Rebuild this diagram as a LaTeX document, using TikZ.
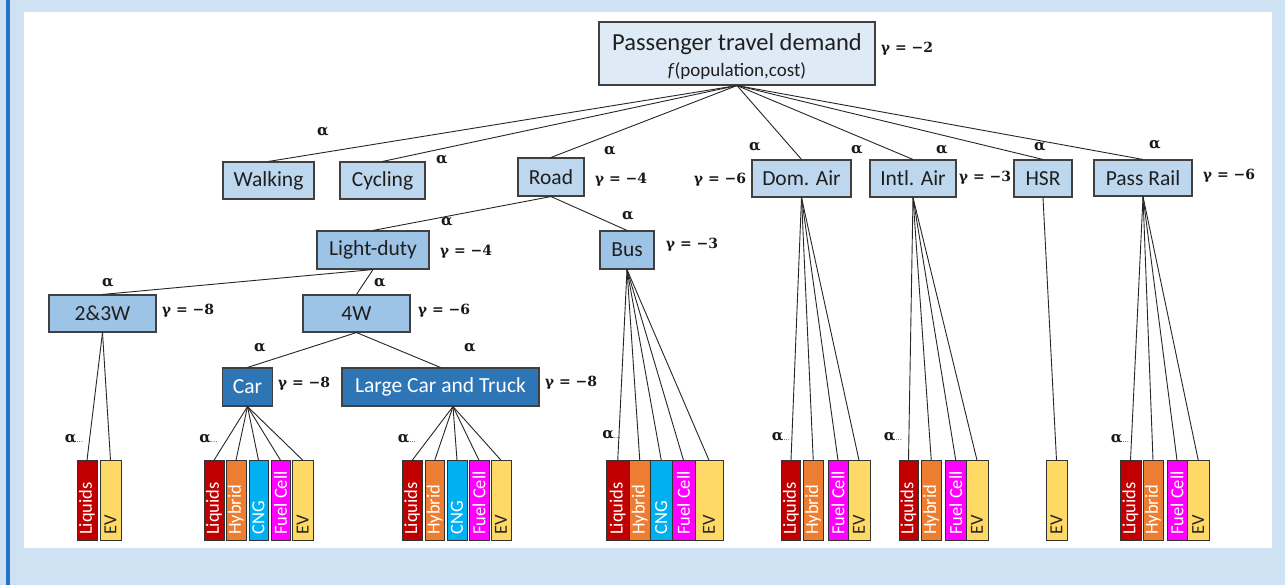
\documentclass[tikz,border=0pt]{standalone}
\usepackage{fontspec}
\setmainfont{Carlito}
\newfontfamily\symfont{DejaVu Serif}
\definecolor{bgblue}{HTML}{CFE2F3}
\definecolor{barblue}{HTML}{2373C8}
\definecolor{rootfill}{HTML}{DEEBF7}
\definecolor{lvla}{HTML}{BDD7EE}
\definecolor{lvlb}{HTML}{9DC3E6}
\definecolor{lvlc}{HTML}{2E75B6}
\definecolor{cliq}{HTML}{C00000}
\definecolor{chyb}{HTML}{ED7D31}
\definecolor{ccng}{HTML}{00B0F0}
\definecolor{cfc}{HTML}{FF00FF}
\definecolor{cev}{HTML}{FFD966}
\newcommand\leafbox[6]{%
  \pgfmathsetmacro\lfc{(#2+#3)/2}%
  \pgfmathsetmacro\lfw{#3-#2}%
  \node[leaf, fill=#4, minimum width=\lfw pt] (#1) at (\lfc,500.7) {};
  \node[leaftext, text=#5] (#1t) at (\lfc,535) {#6};
}
\newcommand\adots{{\fontsize{7}{7}\selectfont\mdseries...}}
\begin{document}
\begin{tikzpicture}[x=1pt,y=-1pt,
  box/.style={draw=black!75, line width=1.1pt, inner sep=0pt, font=\fontsize{21.5}{24}\selectfont, text=black!88},
  leaf/.style={draw=black!80, line width=0.9pt, inner sep=0pt, minimum height=80pt},
  leaftext/.style={rotate=90, anchor=west, inner sep=0pt, font=\fontsize{18.5}{20}\selectfont},
  conn/.style={draw=black!85, line width=0.9pt},
  gam/.style={inner sep=0pt, font=\symfont\bfseries\fontsize{14}{14}\selectfont, text=black!90},
  alp/.style={inner sep=0pt, font=\symfont\bfseries\fontsize{15}{15}\selectfont, text=black!90},
  alpd/.style={inner sep=0pt, font=\symfont\bfseries\fontsize{15}{15}\selectfont, text=black!90}
]
\fill[bgblue] (0,0) rectangle (1285,585);
\fill[barblue] (6,0) rectangle (10,585);
\fill[white] (24,12) rectangle (1272,548);

% root
\node[box, fill=rootfill, minimum width=276pt, minimum height=63pt] (root) at (737,53.5) {};
\node[inner sep=0pt, font=\fontsize{24.5}{26}\selectfont, text=black!88] (roott) at (737,44) {Passenger travel demand};
\node[inner sep=0pt, font=\fontsize{19}{21}\selectfont, text=black!88] (roots) at (737,71) {\textit{f}(population,cost)};

% level 1
\node[box, fill=lvla, minimum width=91pt, minimum height=37pt] (walking) at (268.5,180.5) {Walking};
\node[box, fill=lvla, minimum width=85pt, minimum height=37pt] (cycling) at (382.5,180.5) {Cycling};
\node[box, fill=lvla, minimum width=66pt, minimum height=38pt] (road) at (551,177) {Road};
\node[box, fill=lvla, minimum width=99pt, minimum height=37pt] (domair) at (801.5,178.5) {Dom. Air};
\node[box, fill=lvla, minimum width=86pt, minimum height=37pt] (intlair) at (913,178.5) {Intl. Air};
\node[box, fill=lvla, minimum width=58pt, minimum height=37pt] (hsr) at (1043,178.5) {HSR};
\node[box, fill=lvla, minimum width=98pt, minimum height=36pt] (passrail) at (1143,178) {Pass Rail};

% level 2
\node[box, fill=lvlb, minimum width=112pt, minimum height=38pt] (lightduty) at (373,250) {Light-duty};
\node[box, fill=lvlb, minimum width=54pt, minimum height=38pt] (bus) at (627,250) {Bus};
\node[box, fill=lvlb, minimum width=107pt, minimum height=37pt] (w23) at (102.5,313.5) {2\&3W};
\node[box, fill=lvlb, minimum width=107pt, minimum height=37pt] (w4) at (356.5,313.5) {4W};
\node[box, fill=lvlc, text=white, minimum width=50pt, minimum height=38pt] (car) at (247.5,387) {Car};
\node[box, fill=lvlc, text=white, minimum width=197pt, minimum height=38pt] (lct) at (440.5,387) {Large Car and Truck};

% leaves
\leafbox{l23L}{77}{97}{cliq}{white}{Liquids}
\leafbox{l23E}{100}{121}{cev}{black!85}{EV}
\leafbox{carL}{204}{224}{cliq}{white}{Liquids}
\leafbox{carH}{226}{246}{chyb}{white}{Hybrid}
\leafbox{carC}{249}{268}{ccng}{white}{CNG}
\leafbox{carF}{271}{290}{cfc}{white}{Fuel Cell}
\leafbox{carE}{292.5}{313}{cev}{black!85}{EV}
\leafbox{lctL}{402}{422.5}{cliq}{white}{Liquids}
\leafbox{lctH}{425}{444.5}{chyb}{white}{Hybrid}
\leafbox{lctC}{447}{467}{ccng}{white}{CNG}
\leafbox{lctF}{469}{489}{cfc}{white}{Fuel Cell}
\leafbox{lctE}{491}{511}{cev}{black!85}{EV}
\leafbox{busL}{606.5}{629}{cliq}{white}{Liquids}
\leafbox{busH}{629}{650.5}{chyb}{white}{Hybrid}
\leafbox{busC}{650.5}{672}{ccng}{white}{CNG}
\leafbox{busF}{672}{695}{cfc}{white}{Fuel Cell}
\leafbox{busE}{695}{723}{cev}{black!85}{EV}
\leafbox{domL}{781.5}{800.5}{cliq}{white}{Liquids}
\leafbox{domH}{803}{823.5}{chyb}{white}{Hybrid}
\leafbox{domF}{828}{848}{cfc}{white}{Fuel Cell}
\leafbox{domE}{848}{870}{cev}{black!85}{EV}
\leafbox{intL}{899}{918}{cliq}{white}{Liquids}
\leafbox{intH}{921}{941.5}{chyb}{white}{Hybrid}
\leafbox{intF}{945.5}{966}{cfc}{white}{Fuel Cell}
\leafbox{intE}{966}{988}{cev}{black!85}{EV}
\leafbox{hsrE}{1046}{1067}{cev}{black!85}{EV}
\leafbox{prL}{1120}{1141}{cliq}{white}{Liquids}
\leafbox{prH}{1143}{1163}{chyb}{white}{Hybrid}
\leafbox{prF}{1167}{1187}{cfc}{white}{Fuel Cell}
\leafbox{prE}{1187}{1209.5}{cev}{black!85}{EV}

% connectors
\foreach \c in {walking,cycling,road,domair,intlair,hsr,passrail}
  \draw[conn] (root.south) -- (\c.north);
\foreach \c in {lightduty,bus} \draw[conn] (road.south) -- (\c.north);
\foreach \c in {w23,w4} \draw[conn] (lightduty.south) -- (\c.north);
\foreach \c in {car,lct} \draw[conn] (w4.south) -- (\c.north);
\foreach \c in {l23L,l23E} \draw[conn] (w23.south) -- (\c.north);
\foreach \c in {carL,carH,carC,carF,carE} \draw[conn] (car.south) -- (\c.north);
\coordinate (lcthub) at ([xshift=12.5pt]lct.south);
\foreach \c in {lctL,lctH,lctC,lctF,lctE} \draw[conn] (lcthub) -- (\c.north);
\foreach \c in {busL,busH,busC,busF,busE} \draw[conn] (bus.south) -- (\c.north);
\foreach \c in {domL,domH,domF,domE} \draw[conn] (domair.south) -- (\c.north);
\foreach \c in {intL,intH,intF,intE} \draw[conn] (intlair.south) -- (\c.north);
\draw[conn] (hsr.south) -- (hsrE.north);
\foreach \c in {prL,prH,prF,prE} \draw[conn] (passrail.south) -- (\c.north);

% gamma labels
\node[gam] (groot) at (907,49) {γ = −2};
\node[gam] (groad) at (621,180) {γ = −4};
\node[gam] (gdom) at (720,180) {γ = −6};
\node[gam] (gintl) at (985,178) {γ = −3};
\node[gam] (gpr) at (1229,176) {γ = −6};
\node[gam] (gld) at (466,252) {γ = −4};
\node[gam] (gbus) at (692,245) {γ = −3};
\node[gam] (g23) at (188,311) {γ = −8};
\node[gam] (g4) at (444,311) {γ = −6};
\node[gam] (gcar) at (304,384) {γ = −8};
\node[gam] (glct) at (571,383) {γ = −8};

% alpha labels
\node[alp] (a1) at (323,132) {α};
\node[alp] (a2) at (442,160) {α};
\node[alp] (a3) at (610,151) {α};
\node[alp] (a4) at (755,147) {α};
\node[alp] (a5) at (857,150) {α};
\node[alp] (a6) at (942,150) {α};
\node[alp] (a7) at (1040,147) {α};
\node[alp] (a8) at (1155,145) {α};
\node[alp] (a9) at (447,222) {α};
\node[alp] (a10) at (628,216) {α};
\node[alp] (a11) at (108,283) {α};
\node[alp] (a12) at (380,283) {α};
\node[alp] (a13) at (260,348) {α};
\node[alp] (a14) at (470,348) {α};

% alpha... labels
\node[alpd] (d1) at (74,439) {α\adots};
\node[alpd] (d2) at (208.5,439) {α\adots};
\node[alpd] (d3) at (407,439) {α\adots};
\node[alpd] (d4) at (611.5,435) {α\adots};
\node[alpd] (d5) at (781,437) {α\adots};
\node[alpd] (d6) at (893,437) {α\adots};
\node[alpd] (d7) at (1120,439) {α\adots};
\end{tikzpicture}
\end{document}
